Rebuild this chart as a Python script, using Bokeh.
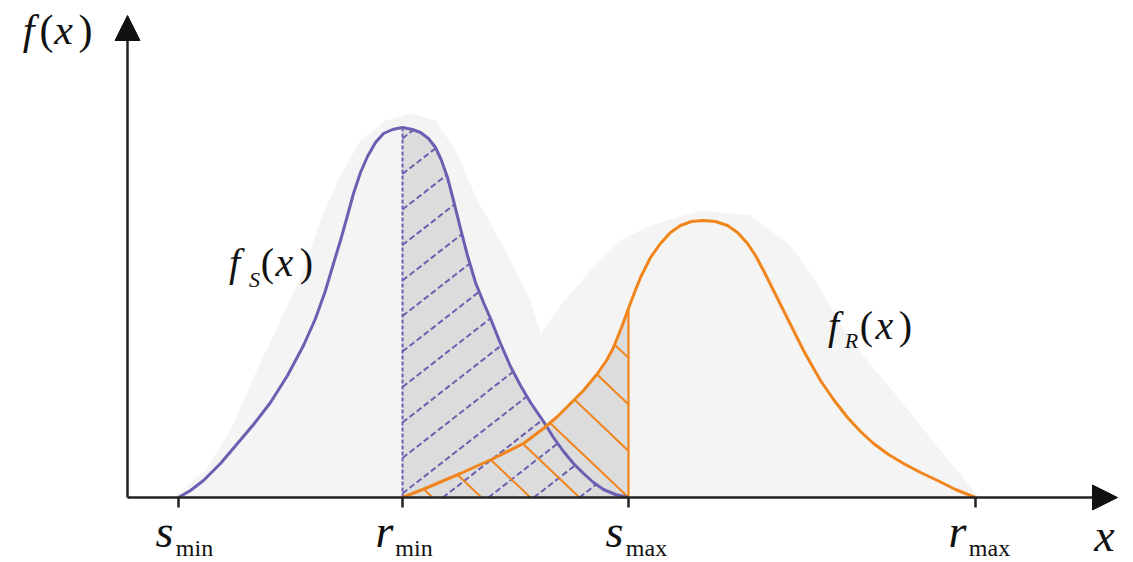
import numpy as np
from bokeh.plotting import figure
from bokeh.models import Range1d, Arrow, NormalHead
from bokeh.core.properties import value
from bokeh.embed import file_html
from bokeh.resources import INLINE

# ---------------- data (arbitrary units) ----------------
tick_main = ["s", "r", "s", "r"]
tick_sub = ["min", "min", "max", "max"]
tick_x = [51, 275, 501, 848]          # s_min, r_min, s_max, r_max

# stress density f_S(x)
fs_x = [51, 63, 76, 93, 110, 126, 143, 160, 176, 188, 198, 206, 213, 220, 226, 233,
        240, 248, 256, 265, 275, 285, 293, 301, 308, 314, 320, 326, 333, 340, 348,
        356, 363, 373, 383, 393, 403, 416, 426, 436, 446, 456, 466, 476, 488, 501]
fs_y = [0, 7, 17, 34, 54, 73, 95, 122, 152, 179, 207, 234, 257, 282, 304, 325,
        341, 355, 364, 368, 370, 368, 365, 359, 350, 337, 320, 297, 269, 242, 215,
        195, 179, 154, 131, 112, 95, 76, 60, 46, 34, 24, 15, 8, 3, 0]

# strength density f_R(x)
fr_x = [275, 300, 333, 366, 396, 416, 430, 443, 456, 470, 479, 486, 494, 501, 507,
        513, 523, 533, 543, 553, 564, 576, 588, 600, 610, 620, 628, 636, 646, 656,
        666, 676, 685, 693, 706, 720, 733, 746, 761, 776, 793, 810, 828, 848]
fr_y = [0, 10, 24, 39, 54, 69, 81, 94, 107, 124, 137, 150, 170, 189, 205,
        220, 240, 254, 265, 272, 276, 277, 276, 272, 265, 254, 242, 227, 207, 187,
        167, 147, 131, 117, 98, 80, 66, 54, 43, 34, 25, 17, 8, 0]

# soft grey shadow behind the two curves
shadow_x = [45, 78, 103, 126, 153, 173, 193, 213, 233, 258, 283, 308, 328, 350, 378,
            403, 413, 433, 463, 493, 523, 573, 623, 663, 688, 723, 773, 813, 852]
shadow_y = [0, 27, 67, 120, 177, 220, 277, 322, 357, 377, 384, 377, 347, 297, 247,
            197, 164, 192, 227, 257, 272, 287, 282, 252, 217, 157, 97, 47, 0]

# ---------------- style ----------------
PURPLE = "#6a5fb0"
ORANGE = "#f0851c"
INK = "#111111"
SERIF = value("Liberation Serif")
BASE_SHIFT = 0.38   # compensation (in em) for where the svg text baseline lands

s_min, r_min, s_max, r_max = tick_x

p = figure(width=1133, height=562, x_range=Range1d(-127, 1006), y_range=Range1d(-65, 497),
           output_backend="svg", toolbar_location=None,
           x_axis_location=None, y_axis_location=None, min_border=0)
p.grid.visible = False
p.outline_line_color = None
p.background_fill_color = "white"
p.border_fill_color = "white"

# shadow
p.patch(shadow_x, shadow_y, fill_color="#f4f4f4", line_color=None)

# grey interference region (union of areas under both curves between r_min and s_max)
fsx = np.array(fs_x, float); fsy = np.array(fs_y, float)
frx = np.array(fr_x, float); fry = np.array(fr_y, float)
m1 = (fsx >= r_min) & (fsx <= s_max)
m2 = (frx >= r_min) & (frx <= s_max)
p.varea(x=fsx[m1], y1=0, y2=fsy[m1], fill_color="#dcdcdc")
p.varea(x=frx[m2], y1=0, y2=fry[m2], fill_color="#dcdcdc")

# hatching
grid = np.linspace(r_min, s_max, 4001)

def clip(c, slope, xref, cx, cy):
    yl = c + slope * (grid - xref)
    yc = np.interp(grid, cx, cy)
    m = (yl >= 0) & (yl <= yc)
    if not m.any():
        return None
    idx = np.where(m)[0]
    return grid[idx[0]], yl[idx[0]], grid[idx[-1]], yl[idx[-1]]

seg = {"x0": [], "y0": [], "x1": [], "y1": []}
for k in range(-8, 11):
    r = clip(4 + 35.5 * k, 0.78, r_min, fsx, fsy)
    if r and (r[2] - r[0]) > 2:
        for key, v in zip(("x0", "y0", "x1", "y1"), r):
            seg[key].append(v)
p.segment(x0="x0", y0="y0", x1="x1", y1="y1", source=seg, line_color=PURPLE,
          line_width=2, line_dash="6 3")

seg2 = {"x0": [], "y0": [], "x1": [], "y1": []}
for k in range(0, 9):
    X = 305 + 49 * k
    r = clip(0, -0.95, X, frx, fry)
    if r and (r[2] - r[0]) > 2:
        for key, v in zip(("x0", "y0", "x1", "y1"), r):
            seg2[key].append(v)
p.segment(x0="x0", y0="y0", x1="x1", y1="y1", source=seg2, line_color=ORANGE,
          line_width=2)

# vertical boundary lines
p.segment(x0=[r_min], y0=[0], x1=[r_min], y1=[float(np.interp(r_min, fsx, fsy))],
          line_color=PURPLE, line_width=2, line_dash="4 2")
p.segment(x0=[s_max], y0=[0], x1=[s_max], y1=[float(np.interp(s_max, frx, fry))],
          line_color=ORANGE, line_width=2.2)

# curves
p.line(fs_x, fs_y, line_color=PURPLE, line_width=3, line_join="round")
p.line(fr_x, fr_y, line_color=ORANGE, line_width=3, line_join="round")

# axes
p.add_layout(Arrow(end=NormalHead(size=25, fill_color=INK, line_color=INK),
                   x_start=0, y_start=0, x_end=990, y_end=0,
                   line_color="#222222", line_width=2.5))
p.add_layout(Arrow(end=NormalHead(size=25, fill_color=INK, line_color=INK),
                   x_start=0, y_start=0, x_end=0, y_end=482,
                   line_color="#222222", line_width=2.5))
p.segment(x0=tick_x, y0=[0] * 4, x1=tick_x, y1=[-10] * 4, line_color="#222222", line_width=2.5)


def put(x, y, t, size, style="normal", x_offset=0):
    p.text(x=[x], y=[y + BASE_SHIFT * size], text=[t], x_offset=x_offset, text_font=SERIF,
           text_font_style=style, text_font_size=f"{size}px", text_align="center",
           text_baseline="alphabetic", text_color=INK)


# tick labels
main_off = [-14, -18, -14, -18]
sub_off = [16, 11.5, 18, 14]
for tx, mt, st, mo, so in zip(tick_x, tick_main, tick_sub, main_off, sub_off):
    put(tx, -51, mt, 46, "italic", mo)
    put(tx, -60, st, 24, "normal", so)

# axis title x
put(977, -55, "x", 46, "italic")


def func_label(xs, y, sub_y, parts, size, sub_size):
    for (t, style, kind), cx in zip(parts, xs):
        if kind == "sub":
            put(cx - 127, sub_y, t, sub_size, style)
        else:
            put(cx - 127, y, t, size, style)


# f(x)
func_label([28, 46, 63, 85], 452, 452,
           [("f", "italic", "m"), ("(", "normal", "m"), ("x", "italic", "m"), (")", "normal", "m")],
           42, 22)
# f_S(x)
func_label([234, 254, 267, 284, 306], 220, 210,
           [("f", "italic", "m"), ("S", "italic", "sub"), ("(", "normal", "m"),
            ("x", "italic", "m"), (")", "normal", "m")], 40, 22)
# f_R(x)
func_label([833, 851, 866, 884, 905], 157, 149,
           [("f", "italic", "m"), ("R", "italic", "sub"), ("(", "normal", "m"),
            ("x", "italic", "m"), (")", "normal", "m")], 40, 22)

open("out.html", "w").write(file_html(p, INLINE))
